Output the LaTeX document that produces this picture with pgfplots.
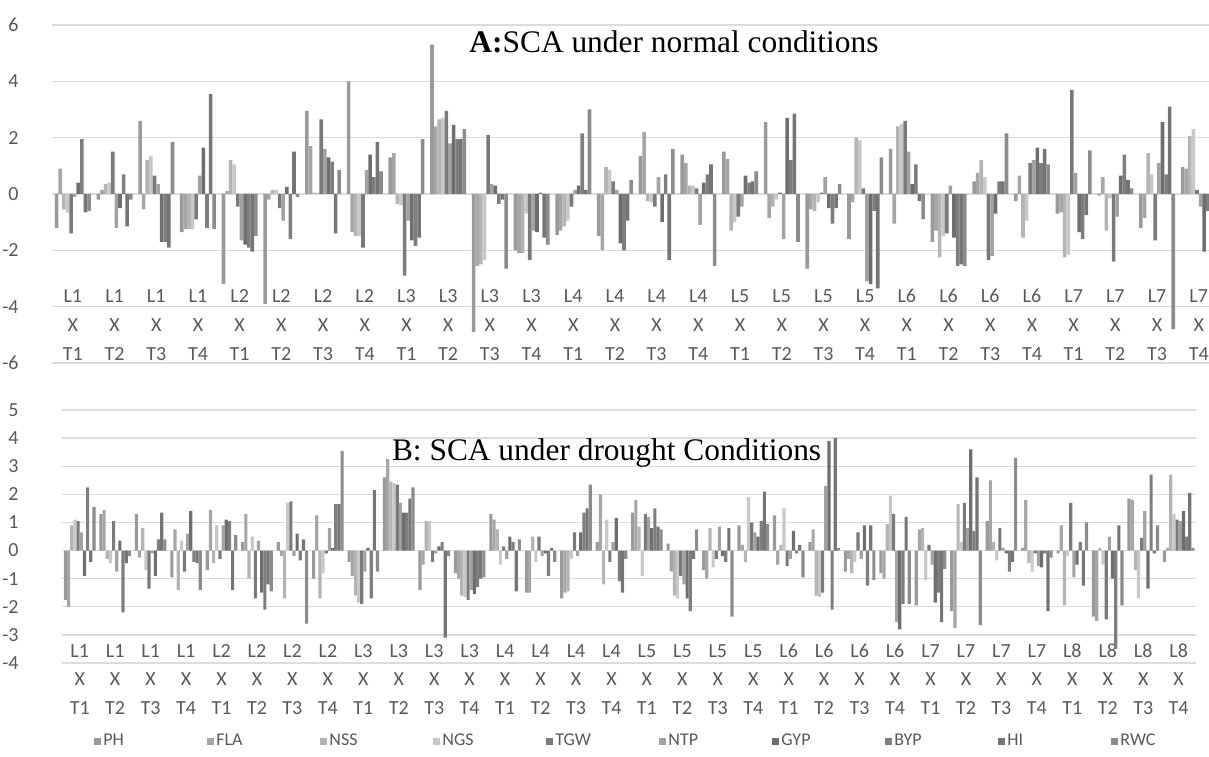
\documentclass[border=0pt]{standalone}
\usepackage{fontspec}
\setmainfont{Carlito}
\newfontfamily\titlefont{Liberation Serif}
\usepackage{pgfplots}
\usepackage{pgfplotstable}
\pgfplotsset{compat=1.18}

\definecolor{cPH}{HTML}{9A9A9A}
\definecolor{cFLA}{HTML}{A6A6A6}
\definecolor{cNSS}{HTML}{B4B4B4}
\definecolor{cNGS}{HTML}{C8C8C8}
\definecolor{cTGW}{HTML}{7A7A7A}
\definecolor{cNTP}{HTML}{A2A2A2}
\definecolor{cGYP}{HTML}{6E6E6E}
\definecolor{cBYP}{HTML}{7E7E7E}
\definecolor{cHI}{HTML}{757575}
\definecolor{cRWC}{HTML}{8C8C8C}
\definecolor{labgray}{HTML}{595959}
\definecolor{gridgray}{HTML}{DCDCDC}

% A: normal conditions, L1..L7 x T1..T4
\pgfplotstableread{
g   PH    FLA   NSS   NGS   TGW   NTP   GYP   BYP   HI    RWC
0  -1.2   0.9  -0.55 -0.65 -1.4  -0.1   0.4   1.95 -0.65 -0.6
1  -0.2   0.15  0.35  0.4   1.5  -1.2  -0.5   0.7  -1.15 -0.2
2   2.6  -0.55  1.2   1.35  0.65  0.35 -1.7  -1.7  -1.9   1.85
3  -1.35 -1.25 -1.25 -1.25 -0.9   0.65  1.65 -1.2   3.55 -1.25
4  -3.2   0.1   1.2   1.05 -0.45 -1.65 -1.8  -1.9  -2.05 -1.5
5  -3.9  -0.2   0.15  0.15 -0.5  -0.95  0.25 -1.6   1.5  -0.1
6   2.95  1.7   0.05  0.05  2.65  1.6   1.3   1.15 -1.4   0.85
7   4.0  -1.35 -1.5  -1.5  -1.9   0.85  1.4   0.6   1.85  0.8
8   1.3   1.45 -0.35 -0.4  -2.9  -0.95 -1.65 -1.85 -1.55  1.95
9   5.3   2.4   2.65  2.7   2.95  1.8   2.45  1.95  1.95  2.3
10 -4.9  -2.55 -2.5  -2.35  2.1   0.35  0.3  -0.35 -0.2  -2.65
11 -2.0  -2.1  -2.1  -0.7  -2.35 -1.3  -1.35  0.05 -1.55 -1.8
12 -1.45 -1.3  -1.15 -0.95 -0.45  0.15  0.3   2.15  0.15  3.0
13 -1.5  -2.0   0.95  0.85  0.45  0.15 -1.75 -2.0  -0.95  0.5
14  1.35  2.2  -0.25 -0.3  -0.45  0.6  -1.0   0.7  -2.35  1.6
15  1.4   1.1   0.3   0.3   0.2  -1.1   0.4   0.7   1.05 -2.55
16  1.5   1.25 -1.3  -1.0  -0.8  -0.45  0.65  0.4   0.45  0.8
17  2.55 -0.85 -0.45 -0.2   0.05 -1.6   2.7   1.2   2.85 -1.7
18 -2.65 -0.55 -0.6  -0.3   0.05  0.6  -0.5  -1.05 -0.5   0.35
19 -1.6  -0.3   2.0   1.9   0.2  -3.1  -3.2  -0.6  -3.35  1.3
20  1.6  -1.05  2.4   2.5   2.6   1.5   0.35  1.05 -0.25 -0.9
21 -1.7  -1.3  -2.25 -1.5  -1.4   0.3  -1.55 -2.55 -2.5  -2.55
22  0.45  0.75  1.2   0.6  -2.35 -2.2  -0.7   0.45  0.45  2.15
23 -0.25  0.65 -1.55 -0.95  1.1   1.2   1.65  1.1   1.6   1.05
24 -0.7  -0.65 -2.25 -2.15  3.7   0.75 -1.35 -1.6  -0.75  1.55
25 -0.05  0.6  -1.3  -0.15 -2.4  -0.8   0.65  1.4   0.5   0.2
26 -1.2  -0.85  1.45  0.7  -1.65  1.1   2.55  0.7   3.1  -4.8
27  0.95  0.9   2.05  2.3   0.15 -0.45 -2.05 -0.6  -3.2  -0.5
}\dataA

% B: drought conditions, L1..L8 x T1..T4
\pgfplotstableread{
g   PH    FLA   NSS   NGS   TGW   NTP   GYP   BYP   HI    RWC
0  -1.75 -2.0   0.9   1.1   1.05  0.65 -0.9   2.25 -0.4   1.55
1   1.3   1.45 -0.3  -0.45  1.05 -0.75  0.35 -2.2  -0.45 -0.2
2   1.3  -0.25  0.8  -0.7  -1.35 -0.1  -0.9   0.4   1.35  0.4
3  -0.95  0.75 -1.4   0.35 -0.75  0.6   1.4  -0.4  -0.45 -1.4
4  -0.7   1.45 -0.45  0.9  -0.3   0.9   1.1   1.05 -1.4   0.55
5   0.3   1.3  -1.0   0.5  -1.7   0.35 -1.5  -2.1  -1.2  -1.45
6   0.3  -0.2  -1.7   1.7   1.75 -0.2   0.6  -0.35  0.4  -2.6
7  -1.0   1.25 -1.7  -0.8  -0.1   0.8   0.1   1.65  1.65  3.55
8  -0.4  -0.9  -1.6  -1.85 -1.9  -0.75  0.1  -1.7   2.15 -0.75
9   2.6   3.25  2.45  2.4   2.35  1.7   1.35  1.35  1.85  2.25
10 -1.4  -0.5   1.05  1.05 -0.4  -0.1   0.15  0.3  -3.1  -0.2
11 -0.8  -1.0  -1.6  -1.65 -1.75 -1.4  -1.55 -1.3  -1.0  -0.95
12  1.3   1.1   0.75 -0.5   0.15 -0.3   0.5   0.3  -1.45  0.4
13 -1.5  -1.5   0.5  -0.4   0.5  -0.2  -0.1  -0.9   0.1  -0.4
14 -1.7  -1.5  -1.45 -0.3   0.65 -0.2   0.65  1.35  1.5   2.35
15  0.3   2.0  -1.2   1.1  -0.4   0.3   1.15 -1.1  -1.5  -0.3
16  1.35  1.8   0.85 -0.9   1.3   1.2   0.8   1.5   0.85  0.75
17  0.25 -0.75 -1.6  -1.7  -0.9  -1.2  -1.7  -2.15 -0.3   0.75
18 -0.7  -1.0   0.8  -0.6  -0.3   0.85 -0.2  -0.4   0.8  -2.35
19  0.9   0.2  -0.4   1.9   1.0   0.65  0.5   1.05  2.1   0.95
20  1.25 -0.5   0.2   1.5  -0.55 -0.3   0.7  -0.1   0.2  -0.95
21  0.3   0.75 -1.6  -1.65 -1.5   2.3   3.9  -2.1   4.0   0.1
22 -0.75 -0.3  -0.8  -0.4   0.65 -0.3   0.9  -1.25  0.9  -1.05
23 -0.8  -1.0   0.95  1.95  1.3  -2.55 -2.8  -1.9   1.2  -1.9
24 -1.95  0.75  0.8  -1.05  0.2  -0.5  -1.85 -1.5  -2.55 -0.65
25 -2.15 -2.75  1.65  0.3   1.7   0.8   3.6   0.7   2.6  -2.65
26  1.05  2.5   0.3  -0.35  0.8   0.1  -0.1  -0.75 -0.4   3.3
27  0.1   1.8  -0.45 -0.75 -0.1  -0.55 -0.6  -0.1  -2.15 -0.25
28 -0.1   0.9  -1.95 -0.2   1.7  -0.95 -0.5   0.3  -1.25  1.0
29 -2.35 -2.5   0.1  -0.5  -2.45  0.5  -1.0  -3.5   0.9  -1.95
30  1.85  1.8  -0.7  -1.7   0.45  1.4  -1.35  2.7  -0.1   0.9
31 -0.4   0.1   2.7   1.3   1.1   1.05  1.4   0.5   2.05  0.1
}\dataB

\pgfplotsset{
  sca/.style={
    scale only axis, anchor=south west,
    ybar=0pt,
    axis line style={draw=none},
    major tick length=0pt,
    ymajorgrids,
    grid style={line width=0.7pt, gridgray},
    /pgf/number format/assume math mode=true,
    yticklabel style={font=\fontsize{10}{12}\selectfont, text=labgray, anchor=east, inner sep=0pt},
    xticklabel style={font=\fontsize{10}{14.4}\selectfont, text=labgray, align=center,
      inner sep=0pt, anchor=south, text depth=0pt},
  },
}

\begin{document}
\begin{tikzpicture}
\path[use as bounding box] (0,0) rectangle (604.5pt,378pt);

\begin{axis}[sca,
  at={(26pt,196.5pt)}, width=578.5pt, height=169pt,
  xmin=-0.5, xmax=27.246, ymin=-6, ymax=6,
  ytick={-6,-4,...,6},
  bar width=1.8pt,
  yticklabel style={xshift=-16.5pt},
  xticklabel style={yshift=1pt},
  xtick={0,...,27},
  xticklabels={{L1\\X\\T1},{L1\\X\\T2},{L1\\X\\T3},{L1\\X\\T4},
    {L2\\X\\T1},{L2\\X\\T2},{L2\\X\\T3},{L2\\X\\T4},
    {L3\\X\\T1},{L3\\X\\T2},{L3\\X\\T3},{L3\\X\\T4},
    {L4\\X\\T1},{L4\\X\\T2},{L4\\X\\T3},{L4\\X\\T4},
    {L5\\X\\T1},{L5\\X\\T2},{L5\\X\\T3},{L5\\X\\T4},
    {L6\\X\\T1},{L6\\X\\T2},{L6\\X\\T3},{L6\\X\\T4},
    {L7\\X\\T1},{L7\\X\\T2},{L7\\X\\T3},{L7\\X\\T4}},
]
\pgfplotsinvokeforeach{PH,FLA,NSS,NGS,TGW,NTP,GYP,BYP,HI,RWC}{
  \addplot[fill=c#1, draw=none] table[x=g, y=#1] {\dataA};
}
\end{axis}

\begin{axis}[sca,
  at={(31pt,46.5pt)}, width=567.2pt, height=126.5pt,
  xmin=-0.5, xmax=31.5, ymin=-4, ymax=5,
  ytick={-4,-3,...,5},
  bar width=1.58pt,
  yticklabel style={xshift=-21.5pt},
  xticklabel style={yshift=-26pt},
  xtick={0,...,31},
  xticklabels={{L1\\X\\T1},{L1\\X\\T2},{L1\\X\\T3},{L1\\X\\T4},
    {L2\\X\\T1},{L2\\X\\T2},{L2\\X\\T3},{L2\\X\\T4},
    {L3\\X\\T1},{L3\\X\\T2},{L3\\X\\T3},{L3\\X\\T4},
    {L4\\X\\T1},{L4\\X\\T2},{L4\\X\\T3},{L4\\X\\T4},
    {L5\\X\\T1},{L5\\X\\T2},{L5\\X\\T3},{L5\\X\\T4},
    {L6\\X\\T1},{L6\\X\\T2},{L6\\X\\T3},{L6\\X\\T4},
    {L7\\X\\T1},{L7\\X\\T2},{L7\\X\\T3},{L7\\X\\T4},
    {L8\\X\\T1},{L8\\X\\T2},{L8\\X\\T3},{L8\\X\\T4}},
  legend columns=10,
  legend style={at={(0.0282,-0.3083)}, anchor=west, draw=none, fill=none,
    inner sep=0pt, font=\fontsize{9}{10}\selectfont, text=labgray,
    nodes={inner sep=1pt}, column sep=0pt},
  legend image code/.code={\fill[#1] (0pt,-1.75pt) rectangle (3.5pt,1.75pt);},
]
\pgfplotsinvokeforeach{PH,FLA,NSS,NGS,TGW,NTP,GYP,BYP,HI,RWC}{
  \addplot[fill=c#1, draw=none] table[x=g, y=#1] {\dataB};
  \addlegendentry{\makebox[51pt][l]{#1}}
}
\end{axis}

\node[anchor=base, inner sep=0pt] at (337pt,351.5pt)
  {\titlefont\fontsize{15.7}{18}\selectfont\textbf{A:}SCA under normal conditions};
\node[anchor=base, inner sep=0pt] at (303.3pt,148pt)
  {\titlefont\fontsize{15.7}{18}\selectfont B: SCA under drought Conditions};
\end{tikzpicture}
\end{document}
